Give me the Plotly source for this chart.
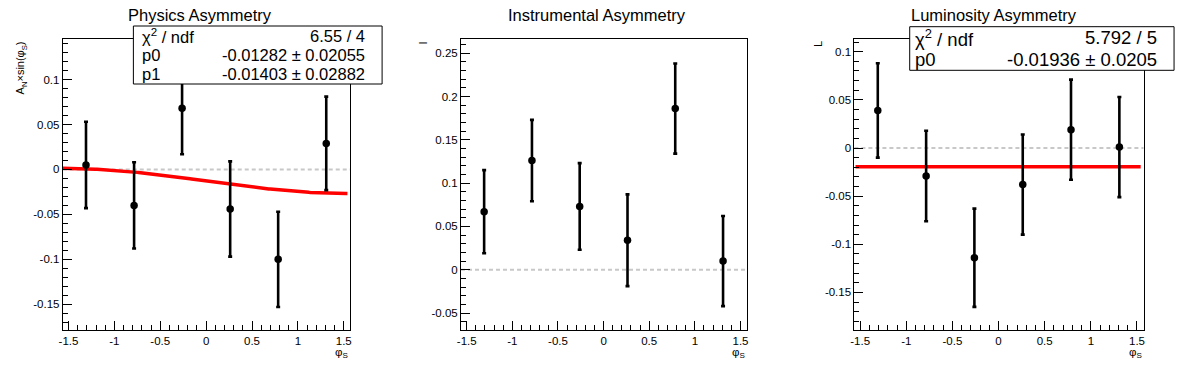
import numpy as np
import plotly.graph_objects as go

# page body has an 8px margin: draw the figure smaller and shift pixel geometry
OFF = 8
W, H = 1180, 356

# ---------------- data ----------------
phi_centers = [-1.309, -0.785, -0.262, 0.262, 0.785, 1.309]

phys_vals = [0.005, -0.040, 0.068, -0.044, -0.100, 0.029]
phys_errs = [0.048, 0.048, 0.051, 0.053, 0.053, 0.052]
phys_fit_p0 = -0.01282
phys_fit_p1 = -0.01403

inst_vals = [0.067, 0.126, 0.073, 0.034, 0.186, 0.010]
inst_errs = [0.048, 0.047, 0.050, 0.053, 0.052, 0.052]

lumi_vals = [0.039, -0.029, -0.114, -0.038, 0.019, 0.001]
lumi_errs = [0.049, 0.047, 0.051, 0.052, 0.052, 0.052]
lumi_fit_p0 = -0.01936

titles = ["Physics Asymmetry", "Instrumental Asymmetry", "Luminosity Asymmetry"]
ytitles = ["A<sub>N</sub>×sin(φ<sub>S</sub>)", "I", "L"]

x_tickvals = [-1.5, -1, -0.5, 0, 0.5, 1, 1.5]
x_ticktext = ["-1.5", "-1", "-0.5", "0", "0.5", "1", "1.5"]
y1_tickvals = [-0.15, -0.1, -0.05, 0, 0.05, 0.1]
y1_ticktext = ["-0.15", "-0.1", "-0.05", "0", "0.05", "0.1"]
y2_tickvals = [-0.05, 0, 0.05, 0.1, 0.15, 0.2, 0.25]
y2_ticktext = ["-0.05", "0", "0.05", "0.1", "0.15", "0.2", "0.25"]
y3_tickvals = [-0.15, -0.1, -0.05, 0, 0.05, 0.1]
y3_ticktext = ["-0.15", "-0.1", "-0.05", "0", "0.05", "0.1"]

stats1 = [("χ<sup>2</sup> / ndf", "6.55 / 4"),
          ("p0", "-0.01282 ± 0.02055"),
          ("p1", "-0.01403 ± 0.02882")]
stats3 = [("χ<sup>2</sup> / ndf", "5.792 / 5"),
          ("p0", "-0.01936 ± 0.0205")]

# ---------------- layout helpers (pixel geometry) ----------------
FONT = "Liberation Sans, Arial, Helvetica, sans-serif"
x_range = [-1.5625, 1.5708]
panels_px = [(59, 348), (459.3, 746.7), (854.7, 1145.3)]
top_px, bot_px = 39.3, 330
y_ranges = [[-0.1786, 0.1448], [-0.0696, 0.266], [-0.189, 0.1129]]


def px(xp):
    return (xp - OFF) / W


def py(yp):
    return 1 - (yp - OFF) / H


fig = go.Figure()

# fit curve physics
xs = np.linspace(x_range[0], 1.54, 200)
fig.add_trace(go.Scatter(x=xs, y=phys_fit_p0 + phys_fit_p1 * np.sin(xs), mode="lines",
                         line=dict(color="#ff0000", width=3.5), xaxis="x", yaxis="y",
                         showlegend=False, hoverinfo="skip"))
# fit line luminosity
xl = np.array([-1.55, 1.54])
fig.add_trace(go.Scatter(x=xl, y=np.full_like(xl, lumi_fit_p0), mode="lines",
                         line=dict(color="#ff0000", width=3.5), xaxis="x3", yaxis="y3",
                         showlegend=False, hoverinfo="skip"))

for i, (vals, errs) in enumerate([(phys_vals, phys_errs), (inst_vals, inst_errs), (lumi_vals, lumi_errs)]):
    sfx = "" if i == 0 else str(i + 1)
    fig.add_trace(go.Scatter(
        x=phi_centers, y=vals, mode="markers",
        marker=dict(color="black", size=7.5),
        error_y=dict(type="data", array=errs, visible=True, color="black", thickness=2.6, width=2),
        xaxis="x" + sfx, yaxis="y" + sfx, showlegend=False))

layout = dict(width=W, height=H, margin=dict(l=0, r=0, t=0, b=0),
              paper_bgcolor="white", plot_bgcolor="white",
              font=dict(family=FONT, color="black", size=11.5))

ytick_sets = [(y1_tickvals, y1_ticktext), (y2_tickvals, y2_ticktext), (y3_tickvals, y3_ticktext)]
shapes = []
annotations = []
for i in range(3):
    sfx = "" if i == 0 else str(i + 1)
    l, r = panels_px[i]
    layout["xaxis" + sfx] = dict(
        domain=[px(l), px(r)], range=x_range, anchor="y" + sfx,
        showgrid=False, zeroline=False, showline=True, linecolor="black", linewidth=1, mirror=True,
        ticks="inside", ticklen=9, tickwidth=1, tickcolor="black",
        tickvals=x_tickvals, ticktext=x_ticktext, tickfont=dict(size=11.5, family=FONT),
        minor=dict(ticks="inside", ticklen=5, tickwidth=1, tickcolor="black", dtick=0.1, tick0=0))
    tv, tt = ytick_sets[i]
    layout["yaxis" + sfx] = dict(
        domain=[py(bot_px), py(top_px)], range=y_ranges[i], anchor="x" + sfx,
        showgrid=False, zeroline=False, showline=True, linecolor="black", linewidth=1, mirror=True,
        ticks="inside", ticklen=9, tickwidth=1, tickcolor="black",
        tickvals=tv, ticktext=tt, tickfont=dict(size=11.5, family=FONT),
        minor=dict(ticks="inside", ticklen=5, tickwidth=1, tickcolor="black", dtick=0.01, tick0=0))
    # dashed zero line
    shapes.append(dict(type="line", xref="x" + sfx + " domain", yref="y" + sfx,
                       x0=0, x1=1, y0=0, y1=0, layer="below",
                       line=dict(color="#c8c8c8", width=2, dash="4px,3px")))
    # x-axis title
    annotations.append(dict(text="φ<sub>S</sub>", x=px(r), y=py(344), xref="paper", yref="paper",
                            xanchor="right", yanchor="top", showarrow=False,
                            font=dict(size=11.5, family=FONT)))

# titles
for t, cx in zip(titles, [197, 596, 995]):
    annotations.append(dict(text=t, x=px(cx), y=py(15), xref="paper", yref="paper",
                            xanchor="center", yanchor="middle", showarrow=False,
                            font=dict(size=16.5, family=FONT)))
# y titles
for t, xc in zip(ytitles, [17, 421, 818]):
    annotations.append(dict(text=t, x=px(xc), y=py(39), xref="paper", yref="paper",
                            xanchor="center", yanchor="top", showarrow=False, textangle=-90,
                            font=dict(size=11, family=FONT)))


def stats_box(rows, x0, x1, y0, y1, fs, lpad, rpad):
    shapes.append(dict(type="rect", xref="paper", yref="paper", x0=px(x0), x1=px(x1),
                       y0=py(y1), y1=py(y0), fillcolor="white", layer="above",
                       line=dict(color="black", width=1)))
    n = len(rows)
    rh = (y1 - y0) / n
    for k, (lab, val) in enumerate(rows):
        yc = y0 + rh * (k + 0.5)
        annotations.append(dict(text=lab, x=px(x0 + lpad), y=py(yc), xref="paper", yref="paper",
                                xanchor="left", yanchor="middle", showarrow=False,
                                font=dict(size=fs, family=FONT)))
        annotations.append(dict(text=val, x=px(x1 - rpad), y=py(yc), xref="paper", yref="paper",
                                xanchor="right", yanchor="middle", showarrow=False,
                                font=dict(size=fs, family=FONT)))


stats_box(stats1, 130, 380, 26, 84, 16.5, 7, 15)
stats_box(stats3, 910.3, 1176, 26.7, 70.3, 18.5, 3, 15)

layout["shapes"] = shapes
layout["annotations"] = annotations
fig.update_layout(**layout)
fig.write_html("out.html")
